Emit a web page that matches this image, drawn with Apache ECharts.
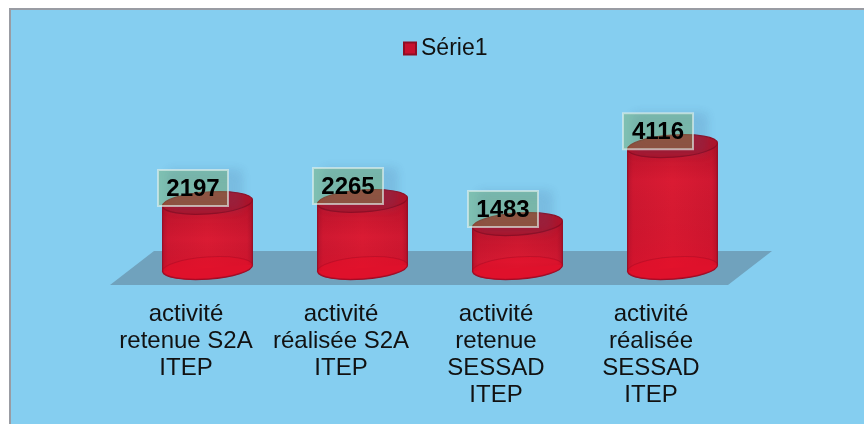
<!DOCTYPE html>
<html><head><meta charset="utf-8">
<style>html,body{margin:0;padding:0;background:#fff}#c{width:864px;height:424px}</style>
<script src="https://cdn.jsdelivr.net/npm/echarts@6/dist/echarts.min.js"></script>
</head><body><div id="c"></div>
<script>
const categories = [
  'activité\nretenue S2A\nITEP',
  'activité\nréalisée S2A\nITEP',
  'activité\nretenue\nSESSAD\nITEP',
  'activité\nréalisée\nSESSAD\nITEP'
];
const values = [2197, 2265, 1483, 4116];
const seriesName = 'Série1';

const FONT = '"Liberation Sans", Arial, sans-serif';
const DEPTH = 21.5, RX = 45, RY = 11, TILT = 4 * Math.PI / 180;
const G = echarts.graphic;

function ellipse(cx, cy, fill, stroke, lw) {
  return {
    type: 'ellipse', x: cx, y: cy, rotation: TILT,
    shape: { cx: 0, cy: 0, rx: RX, ry: RY },
    style: { fill: fill, stroke: stroke, lineWidth: lw }
  };
}

function renderCylinder(params, api) {
  const base = api.coord([api.value(0), 0]);
  const top = api.coord([api.value(0), api.value(1)]);
  const cx = base[0] + DEPTH, by = base[1], ty = top[1];
  const d = RX * Math.sin(TILT), w = RX * Math.cos(TILT);
  const side = [[cx - w, ty + d], [cx - w, by + d], [cx + w, by - d], [cx + w, ty - d]];
  const h = by - ty;
  return {
    type: 'group',
    children: [
      ellipse(cx, by, '#d8142e', '#98102a', 1.5),
      { type: 'polygon', shape: { points: side },
        style: { fill: new G.LinearGradient(0, 0, 1, 0, [
          { offset: 0, color: '#b8142e' }, { offset: 0.06, color: '#cf1831' },
          { offset: 0.5, color: '#da1b33' }, { offset: 0.94, color: '#cf1831' },
          { offset: 1, color: '#b5132c' }]) } },
      { type: 'polygon', shape: { points: side },
        style: { fill: new G.LinearGradient(0, 0, 0, 1, [
          { offset: 0, color: 'rgba(120,0,20,0.28)' },
          { offset: Math.min(0.9, 36 / h), color: 'rgba(120,0,20,0)' },
          { offset: 1, color: 'rgba(235,0,30,0.2)' }]) } },
      { type: 'line', shape: { x1: cx - w, y1: ty + d, x2: cx - w, y2: by + d }, style: { stroke: '#981028', lineWidth: 1.2 } },
      { type: 'line', shape: { x1: cx + w, y1: ty - d, x2: cx + w, y2: by - d }, style: { stroke: '#981028', lineWidth: 1.2 } },
      ellipse(cx, by, 'rgba(232,14,40,0.45)', 'rgba(165,10,35,0.45)', 1),
      ellipse(cx, ty, '#ad1229', '#900c22', 1.2),
      { type: 'rect', shape: { x: cx - 49.5, y: ty - 33, width: 70, height: 36 },
        style: { fill: 'rgba(118,170,80,0.38)', stroke: 'rgba(225,240,235,0.65)', lineWidth: 2,
          shadowColor: 'rgba(60,100,150,0.42)', shadowBlur: 10, shadowOffsetX: 12, shadowOffsetY: 2 } },
      { type: 'text', x: cx - 14.5, y: ty - 14,
        style: { text: String(api.value(1)), font: 'bold 24px ' + FONT, fill: '#000', align: 'center', verticalAlign: 'middle' } }
    ]
  };
}

const chart = echarts.init(document.getElementById('c'), null, { renderer: 'canvas' });
chart.setOption({
  animation: false,
  backgroundColor: '#ffffff',
  graphic: [
    { type: 'rect', z: 0, shape: { x: 10, y: 9, width: 870, height: 430 },
      style: { fill: '#85cef0', stroke: '#999ca3', lineWidth: 2 } },
    { type: 'polygon', z: 0, shape: { points: [[110, 285], [154, 251], [772, 251], [728, 285]] },
      style: { fill: '#70a2bd' } }
  ],
  legend: {
    show: true, left: 398, top: 32, itemWidth: 12, itemHeight: 12, itemGap: 5,
    icon: 'rect',
    textStyle: { fontFamily: FONT, fontSize: 23, color: '#111' },
    data: [seriesName]
  },
  grid: { left: 108.5, width: 620, top: 120, height: 148, containLabel: false },
  xAxis: {
    type: 'category', data: categories,
    axisLine: { show: false }, axisTick: { show: false },
    axisLabel: { interval: 0, margin: 33, fontFamily: FONT, fontSize: 24, lineHeight: 27, color: '#111', align: 'center', verticalAlign: 'top' }
  },
  yAxis: { type: 'value', min: 0, max: 5000, show: false, splitLine: { show: false } },
  series: [{
    type: 'custom', name: seriesName, z: 5, clip: false,
    itemStyle: { color: '#c8102e', borderColor: '#8f0d24', borderWidth: 1 },
    encode: { x: 0, y: 1 },
    data: values.map((v, i) => [i, v]),
    renderItem: renderCylinder
  }]
});
</script></body></html>
